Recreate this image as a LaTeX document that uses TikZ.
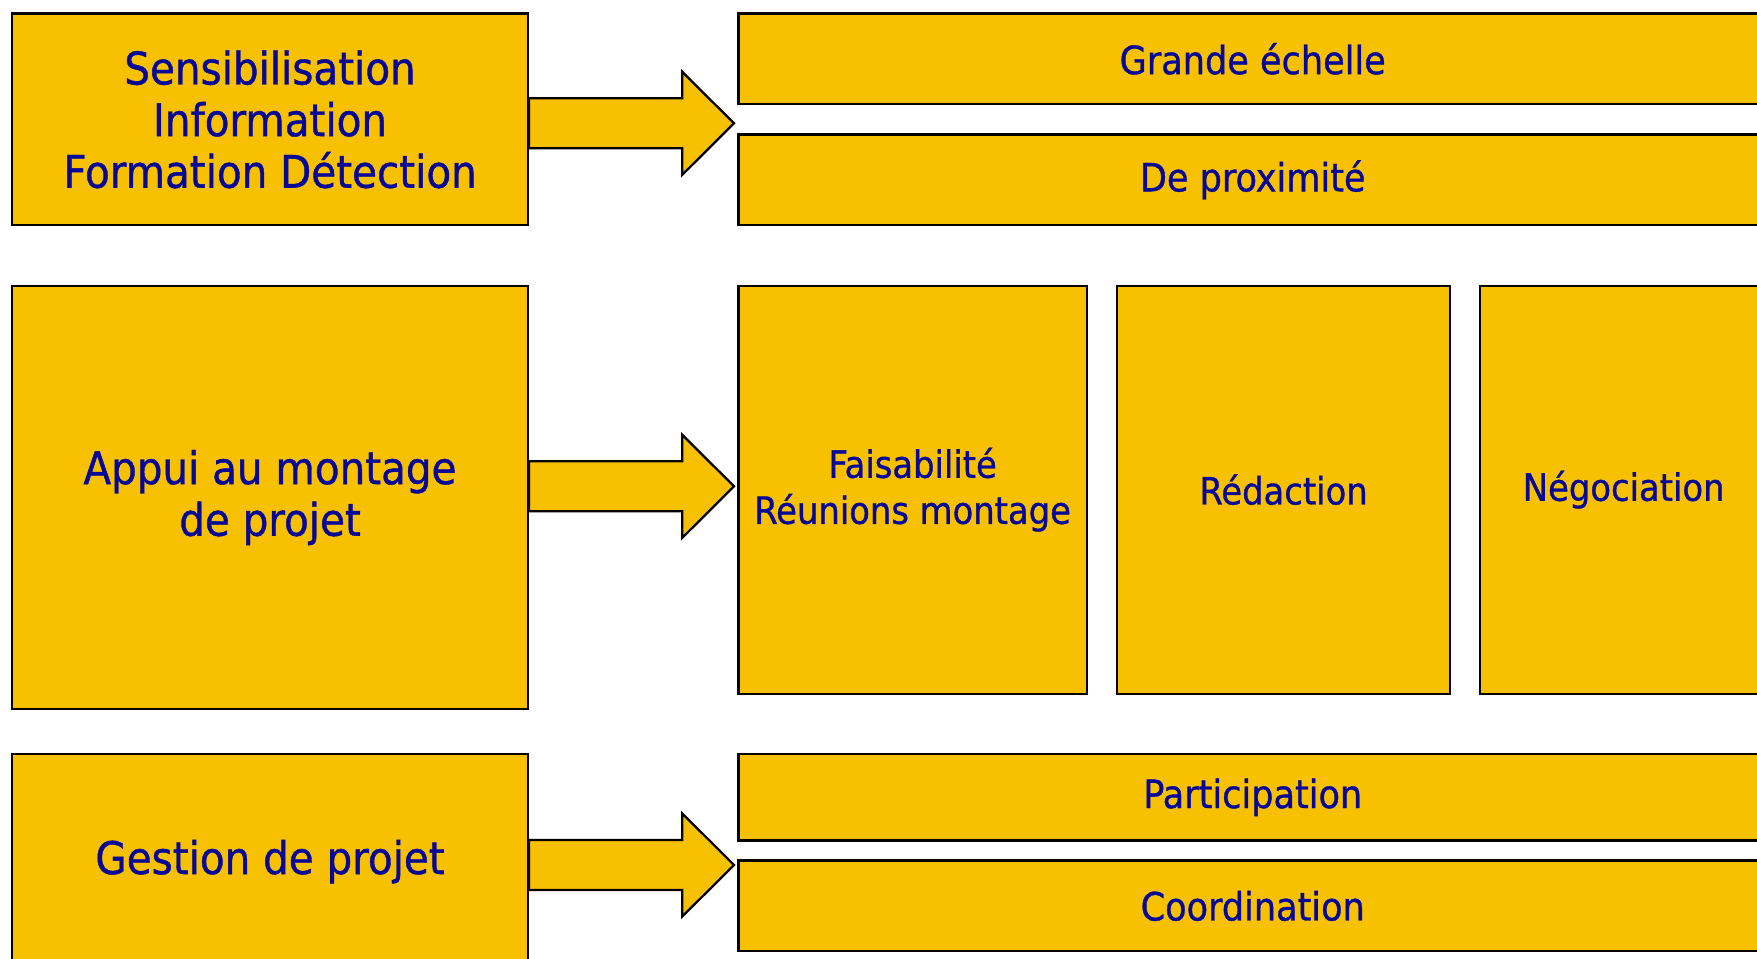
\documentclass[tikz,border=0pt]{standalone}
\usepackage{fontspec}
\setmainfont{DejaVu Sans Condensed}[FakeBold=0.9]
\usepackage{tikz}
\usetikzlibrary{positioning}

\definecolor{boxyellow}{RGB}{247,192,0}
\definecolor{textblue}{RGB}{8,8,150}
\newdimen\pxu
\pxu=0.02cm

\begin{document}
\begin{tikzpicture}[x=0.02cm, y=-0.02cm]
	\tikzstyle{yellow_box} = [rectangle, draw, line width=1.3pt, fill=boxyellow, text=textblue, inner sep=0pt, anchor=north west, align=center]
	\tikzstyle{left_box} = [yellow_box, minimum width=515.4*\pxu, font=\fontsize{25.6}{29.4}\selectfont]
	\tikzstyle{wide_box} = [yellow_box, minimum width=1028.6*\pxu, font=\fontsize{22.2}{26}\selectfont]
	\tikzstyle{tall_box} = [yellow_box, minimum height=407.9*\pxu, font=\fontsize{21.4}{26.2}\selectfont]
	\tikzstyle{block_arrow} = [draw, line width=1.3pt, fill=boxyellow, line join=miter]

	\useasboundingbox (0,0) rectangle (1757,959);
	\clip (0,0) rectangle (1757,959);

	% Left column
	\node (sens) [left_box, minimum height=211.8*\pxu] at (11.2,12.3) {Sensibilisation\\Information\\Formation Détection};
	\node (appui) [left_box, minimum height=423.6*\pxu] at (11.2,284.6) {Appui au montage\\de projet};
	\node (gest) [left_box, minimum height=215*\pxu] at (11.2,753) {Gestion de projet};

	% First row
	\node (gde) [wide_box, minimum height=90.8*\pxu] at (737.3,12.3) {Grande échelle};
	\node (prox) [wide_box, minimum height=90.8*\pxu] at (737.3,133.3) {De proximité};

	% Second row
	\node (faisa) [tall_box, minimum width=348.5*\pxu] at (737.3,284.6) {Faisabilité\\Réunions montage};
	\node (redac) [tall_box, minimum width=332.8*\pxu] at (1116,284.6) {Rédaction};
	\node (nego) [tall_box, minimum width=287*\pxu] at (1479,284.6) {Négociation};

	% Third row
	\node (part) [wide_box, minimum height=86.3*\pxu] at (737.3,753) {Participation};
	\node (coord) [wide_box, minimum height=90.8*\pxu] at (737.3,859.4) {Coordination};

	% Arrows
	\foreach \src/\yc in {sens/123.3, appui/486.3, gest/865}
	\draw[block_arrow] (0,\yc -| \src.east) ++(0,-25) -- ++(153.4,0) -- ++(0,-26.5) -- ++(51.7,51.5) -- ++(-51.7,51.5) -- ++(0,-26.5) -- ++(-153.4,0) -- cycle;
\end{tikzpicture}
\end{document}
